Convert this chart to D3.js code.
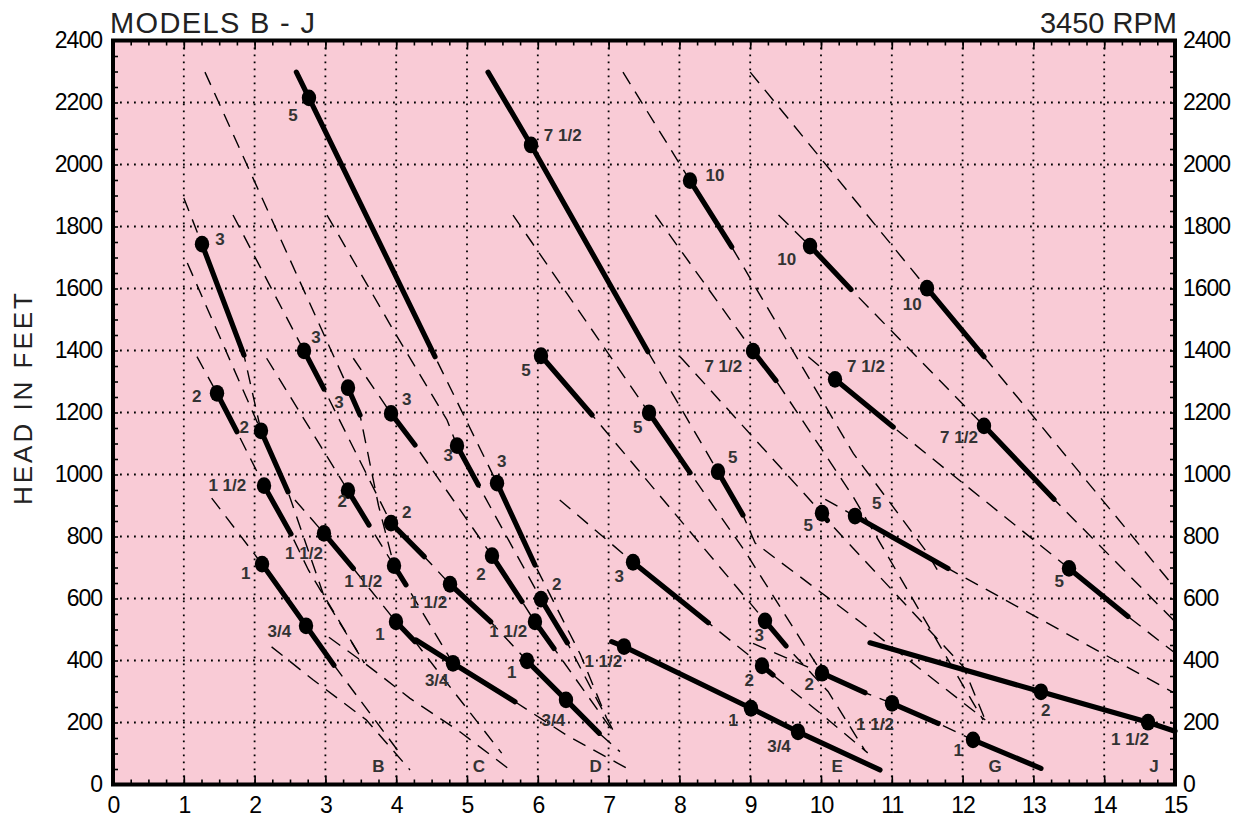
<!DOCTYPE html>
<html>
<head>
<meta charset="utf-8">
<script src="https://cdn.jsdelivr.net/npm/d3@7"></script>
<style>
  body { margin: 0; background: #fff; }
  svg { display: block; font-family: "Liberation Sans", Arial, Helvetica, sans-serif; }
</style>
</head>
<body>
<svg width="1243" height="831"></svg>
<script>
// axis ticks
var xTicks = d3.range(0, 16);
var yTicks = d3.range(0, 2401, 200);

// model letters along the bottom (flow, head)
var models = [
  { m: "B", x: 3.747, h: 57 }, { m: "C", x: 5.169, h: 57 }, { m: "D", x: 6.818, h: 57 },
  { m: "E", x: 10.23, h: 57 }, { m: "G", x: 12.458, h: 57 }, { m: "J", x: 14.703, h: 57 }
];

// thin dashed pump curves
var curves = [
  [[1.0,1892],[1.257,1743],[1.85,1385],[2.09,1141]],
  [[1.05,1682],[2.09,1141],[2.472,944],[2.99,601],[3.55,392]],
  [[1.186,1380],[1.469,1262],[1.751,1138],[2.133,964],[2.514,808],[2.76,692],[3.55,392]],
  [[1.394,924],[2.105,711],[2.726,512],[3.121,385],[4.05,101]],
  [[2.24,444],[2.83,337],[3.58,208],[4.195,47]],
  [[3.05,475],[3.55,392],[4.195,278],[4.9,170],[5.61,47]],
  [[1.695,1837],[2.698,1399],[2.98,1276],[3.927,843],[4.397,735],[4.76,646],[5.335,525],[5.847,399],[6.398,273],[6.869,165],[7.16,106]],
  [[1.299,2298],[3.319,1280],[3.489,1192],[3.75,900],[3.969,706]],
  [[2.17,1375],[3.319,948],[3.616,837],[3.969,706],[4.138,644],[4.802,391]],
  [[2.57,918],[2.98,810],[3.394,697],[3.997,525],[4.266,461],[4.76,315],[5.49,101]],
  [[3.023,1837],[3.959,1466],[4.718,1176],[4.859,1093],[5.16,966],[6.045,598],[6.417,457],[7.11,154]],
  [[3.394,1375],[3.927,1197],[4.266,1095],[5.353,738],[5.777,590],[5.96,525],[6.229,439],[7.05,175]],
  [[2.59,2298],[4.548,1380],[5.424,972],[5.96,708],[6.6,420],[6.97,215]],
  [[5.678,267],[6.4,160],[7.26,52]],
  [[6.045,1383],[6.766,1192],[7.63,957],[9.209,528],[9.506,447],[10.1,300],[10.62,110]],
  [[5.65,1837],[7.571,1199],[8.15,1006],[8.93,751],[10.014,359]],
  [[6.31,918],[7.345,717],[8.408,522],[9.167,383],[9.322,353],[9.99,230],[10.66,102]],
  [[9.04,455],[10.014,359],[10.621,296],[11.003,262],[11.653,197],[12.147,144]],
  [[5.297,2298],[7.556,1396],[8.545,1009],[8.898,869],[9.07,779],[10.55,525],[12.32,208]],
  [[7.203,2298],[8.15,1948],[8.739,1734],[10.456,1068],[11.49,751],[11.7,670]],
  [[7.66,1837],[9.04,1398],[9.364,1303],[10.456,928],[12.29,208]],
  [[8.01,1380],[10.014,875],[10.09,852],[12.01,380],[12.32,208]],
  [[9.82,1380],[10.198,1307],[11.02,1153],[13.503,697],[14.336,542],[15,424]],
  [[9.4,1837],[9.845,1737],[10.424,1597],[12.302,1157],[13.291,920],[15,525]],
  [[9.0,2298],[11.497,1601],[12.302,1380],[15,634]],
  [[10.06,920],[10.48,866],[11.794,697],[15,294]]
];

// heavy operating ranges
var ranges = [
  [[1.257,1743],[1.85,1385]],
  [[1.469,1262],[1.751,1138]],
  [[2.09,1141],[2.472,944]],
  [[2.133,964],[2.514,808]],
  [[2.105,711],[2.726,512],[3.121,385]],
  [[2.698,1399],[2.98,1276]],
  [[3.319,1280],[3.489,1192]],
  [[3.319,948],[3.616,837]],
  [[2.98,810],[3.394,697]],
  [[3.927,1197],[4.266,1095]],
  [[3.927,843],[4.397,735]],
  [[3.969,706],[4.138,644]],
  [[3.997,525],[4.266,461]],
  [[4.28,466],[4.802,391],[5.678,267]],
  [[4.76,646],[5.335,525]],
  [[4.859,1093],[5.16,966]],
  [[5.353,738],[5.777,590]],
  [[5.424,972],[5.96,708]],
  [[5.96,525],[6.229,439]],
  [[6.045,598],[6.417,457]],
  [[5.847,399],[6.398,273],[6.869,165]],
  [[6.045,1383],[6.766,1192]],
  [[7.571,1199],[8.15,1006]],
  [[7.345,717],[8.408,522]],
  [[7.044,461],[7.218,445],[9.011,246],[9.675,170],[10.833,47]],
  [[5.297,2298],[5.904,2063],[7.556,1396]],
  [[2.59,2298],[2.768,2215],[4.548,1380]],
  [[8.15,1948],[8.739,1734]],
  [[9.845,1737],[10.424,1597]],
  [[9.04,1398],[9.364,1303]],
  [[10.198,1307],[11.02,1153]],
  [[11.497,1601],[12.302,1380]],
  [[12.302,1157],[13.291,920]],
  [[8.545,1009],[8.898,869]],
  [[10.014,875],[10.09,852]],
  [[10.48,866],[11.794,697]],
  [[13.503,697],[14.336,542]],
  [[9.209,528],[9.506,447]],
  [[9.167,383],[9.322,353]],
  [[10.014,359],[10.621,296]],
  [[11.003,262],[11.653,197]],
  [[12.147,144],[13.107,52]],
  [[10.692,457],[13.107,299],[14.619,201],[15,172]]
];

// motor HP points: dot (x, h) and where its label sits (lx, lh)
var hpPoints = [
  { x: 1.257, h: 1743, hp: "3", lx: 1.511, lh: 1757 },
  { x: 2.768, h: 2215, hp: "5", lx: 2.542, lh: 2157 },
  { x: 5.904, h: 2063, hp: "7 1/2", lx: 6.352, lh: 2092 },
  { x: 8.15, h: 1948, hp: "10", lx: 8.503, lh: 1964 },
  { x: 9.845, h: 1737, hp: "10", lx: 9.515, lh: 1692 },
  { x: 11.497, h: 1601, hp: "10", lx: 11.29, lh: 1550 },
  { x: 1.469, h: 1262, hp: "2", lx: 1.182, lh: 1253 },
  { x: 2.09, h: 1141, hp: "2", lx: 1.855, lh: 1151 },
  { x: 2.133, h: 964, hp: "1 1/2", lx: 1.615, lh: 964 },
  { x: 2.105, h: 711, hp: "1", lx: 1.874, lh: 681 },
  { x: 2.726, h: 512, hp: "3/4", lx: 2.349, lh: 493 },
  { x: 2.698, h: 1399, hp: "3", lx: 2.867, lh: 1443 },
  { x: 3.319, h: 1280, hp: "3", lx: 3.192, lh: 1233 },
  { x: 3.319, h: 948, hp: "2", lx: 3.239, lh: 912 },
  { x: 2.98, h: 810, hp: "1 1/2", lx: 2.698, lh: 746 },
  { x: 3.927, h: 1197, hp: "3", lx: 4.148, lh: 1243 },
  { x: 3.927, h: 843, hp: "2", lx: 4.148, lh: 878 },
  { x: 3.969, h: 706, hp: "1 1/2", lx: 3.535, lh: 654 },
  { x: 3.997, h: 525, hp: "1", lx: 3.771, lh: 485 },
  { x: 4.802, h: 391, hp: "3/4", lx: 4.572, lh: 334 },
  { x: 4.76, h: 646, hp: "1 1/2", lx: 4.454, lh: 588 },
  { x: 4.859, h: 1093, hp: "3", lx: 4.736, lh: 1060 },
  { x: 5.353, h: 738, hp: "2", lx: 5.198, lh: 678 },
  { x: 5.424, h: 972, hp: "3", lx: 5.49, lh: 1041 },
  { x: 5.96, h: 525, hp: "1 1/2", lx: 5.583, lh: 495 },
  { x: 6.045, h: 598, hp: "2", lx: 6.267, lh: 646 },
  { x: 5.847, h: 399, hp: "1", lx: 5.631, lh: 361 },
  { x: 6.398, h: 273, hp: "3/4", lx: 6.219, lh: 206 },
  { x: 6.045, h: 1383, hp: "5", lx: 5.833, lh: 1335 },
  { x: 7.571, h: 1199, hp: "5", lx: 7.411, lh: 1151 },
  { x: 7.345, h: 717, hp: "3", lx: 7.151, lh: 670 },
  { x: 7.218, h: 445, hp: "1 1/2", lx: 6.925, lh: 396 },
  { x: 9.011, h: 246, hp: "1", lx: 8.761, lh: 205 },
  { x: 9.675, h: 170, hp: "3/4", lx: 9.407, lh: 122 },
  { x: 9.04, h: 1398, hp: "7 1/2", lx: 8.62, lh: 1350 },
  { x: 10.198, h: 1307, hp: "7 1/2", lx: 10.636, lh: 1350 },
  { x: 12.302, h: 1157, hp: "7 1/2", lx: 11.949, lh: 1120 },
  { x: 8.545, h: 1009, hp: "5", lx: 8.753, lh: 1055 },
  { x: 10.014, h: 875, hp: "5", lx: 9.82, lh: 834 },
  { x: 10.48, h: 866, hp: "5", lx: 10.787, lh: 907 },
  { x: 13.503, h: 697, hp: "5", lx: 13.366, lh: 654 },
  { x: 9.209, h: 528, hp: "3", lx: 9.129, lh: 482 },
  { x: 9.167, h: 383, hp: "2", lx: 8.987, lh: 337 },
  { x: 10.014, h: 359, hp: "2", lx: 9.835, lh: 321 },
  { x: 11.003, h: 262, hp: "1 1/2", lx: 10.763, lh: 194 },
  { x: 12.147, h: 144, hp: "1", lx: 11.939, lh: 109 },
  { x: 13.107, h: 299, hp: "2", lx: 13.174, lh: 240 },
  { x: 14.619, h: 201, hp: "1 1/2", lx: 14.364, lh: 144 }
];

var svg = d3.select('svg');
var plotLeft = 113, plotRight = 1175, plotTop = 40.5, plotBottom = 784.5;

var x = d3.scaleLinear().domain([0, 15]).range([plotLeft, plotRight]);
var y = d3.scaleLinear().domain([0, 2400]).range([plotBottom, plotTop]);

// plot background
svg.append('rect')
  .attr('x', plotLeft).attr('y', plotTop)
  .attr('width', plotRight - plotLeft).attr('height', plotBottom - plotTop)
  .attr('fill', '#f9cbd6');

// dotted grid
svg.append('g').selectAll('line')
  .data(d3.range(1, 15))
  .enter().append('line')
  .attr('x1', d => x(d)).attr('x2', d => x(d))
  .attr('y1', plotTop).attr('y2', plotBottom)
  .attr('stroke', '#000').attr('stroke-width', 1.8)
  .attr('stroke-dasharray', '1.8,5.2');

svg.append('g').selectAll('line')
  .data(d3.range(200, 2400, 200))
  .enter().append('line')
  .attr('x1', plotLeft).attr('x2', plotRight)
  .attr('y1', d => y(d)).attr('y2', d => y(d))
  .attr('stroke', '#000').attr('stroke-width', 1.8)
  .attr('stroke-dasharray', '1.8,5.2');

var line = d3.line().x(d => x(d[0])).y(d => y(d[1]));

// dashed curves
svg.append('g').selectAll('path')
  .data(curves)
  .enter().append('path')
  .attr('d', line)
  .attr('fill', 'none')
  .attr('stroke', '#000')
  .attr('stroke-width', 1.4)
  .attr('stroke-dasharray', '14,9');

// heavy ranges
svg.append('g').selectAll('path')
  .data(ranges)
  .enter().append('path')
  .attr('d', line)
  .attr('fill', 'none')
  .attr('stroke', '#000')
  .attr('stroke-width', 5.2)
  .attr('stroke-linecap', 'round')
  .attr('stroke-linejoin', 'round');

// dots
svg.append('g').selectAll('ellipse')
  .data(hpPoints)
  .enter().append('ellipse')
  .attr('cx', d => x(d.x)).attr('cy', d => y(d.h))
  .attr('rx', 7.2).attr('ry', 8.4)
  .attr('fill', '#000');

// HP labels
svg.append('g').selectAll('text')
  .data(hpPoints)
  .enter().append('text')
  .attr('x', d => x(d.lx)).attr('y', d => y(d.lh))
  .attr('text-anchor', 'middle')
  .attr('dominant-baseline', 'central')
  .attr('font-size', 17).attr('font-weight', 'bold')
  .attr('fill', '#333')
  .text(d => d.hp);

// model letters
svg.append('g').selectAll('text')
  .data(models)
  .enter().append('text')
  .attr('x', d => x(d.x)).attr('y', d => y(d.h))
  .attr('text-anchor', 'middle')
  .attr('dominant-baseline', 'central')
  .attr('font-size', 17).attr('font-weight', 'bold')
  .attr('fill', '#333')
  .text(d => d.m);

// inner ticks
function ticks(axis, tx, ty) {
  svg.append('g')
    .attr('transform', 'translate(' + tx + ',' + ty + ')')
    .call(axis)
    .call(g => g.select('.domain').remove())
    .selectAll('line').attr('stroke-width', 1.6);
}
ticks(d3.axisLeft(y).tickValues(d3.range(0, 2401, 50)).tickSize(-5).tickFormat(''), plotLeft, 0);
ticks(d3.axisRight(y).tickValues(d3.range(0, 2401, 50)).tickSize(-5).tickFormat(''), plotRight, 0);
ticks(d3.axisBottom(x).tickValues(d3.range(0, 15.01, 0.25)).tickSize(-5).tickFormat(''), 0, plotBottom);
ticks(d3.axisTop(x).tickValues(d3.range(0, 15.01, 0.25)).tickSize(-5).tickFormat(''), 0, plotTop);
ticks(d3.axisBottom(x).tickValues(xTicks).tickSize(-9).tickFormat(''), 0, plotBottom);
ticks(d3.axisTop(x).tickValues(xTicks).tickSize(-9).tickFormat(''), 0, plotTop);

// border
svg.append('rect')
  .attr('x', plotLeft).attr('y', plotTop)
  .attr('width', plotRight - plotLeft).attr('height', plotBottom - plotTop)
  .attr('fill', 'none').attr('stroke', '#000').attr('stroke-width', 4);

// axis labels
function labels(axis, tx, ty) {
  var g = svg.append('g')
    .attr('transform', 'translate(' + tx + ',' + ty + ')')
    .call(axis);
  g.select('.domain').remove();
  g.selectAll('line').remove();
  g.attr('font-family', null).attr('font-size', null);
  g.selectAll('text')
    .attr('font-size', 23).attr('fill', '#000')
    .attr('letter-spacing', '-1px');
}
labels(d3.axisLeft(y).tickValues(yTicks).tickFormat(d3.format('d')).tickSize(0).tickPadding(11), plotLeft, 0);
labels(d3.axisRight(y).tickValues(yTicks).tickFormat(d3.format('d')).tickSize(0).tickPadding(8), plotRight, 0);
labels(d3.axisBottom(x).tickValues(xTicks).tickFormat(d3.format('d')).tickSize(0).tickPadding(12), 0, plotBottom);

// titles
svg.append('text')
  .attr('x', 110).attr('y', 33)
  .attr('font-size', 29).attr('fill', '#222')
  .attr('textLength', 205).attr('lengthAdjust', 'spacing')
  .text('MODELS B - J');

svg.append('text')
  .attr('x', 1177).attr('y', 33)
  .attr('text-anchor', 'end')
  .attr('font-size', 29).attr('fill', '#222')
  .text('3450 RPM');

svg.append('text')
  .attr('transform', 'translate(32,399) rotate(-90)')
  .attr('text-anchor', 'middle')
  .attr('font-size', 26).attr('fill', '#222')
  .attr('textLength', 212).attr('lengthAdjust', 'spacing')
  .text('HEAD IN FEET');
</script>
</body>
</html>
